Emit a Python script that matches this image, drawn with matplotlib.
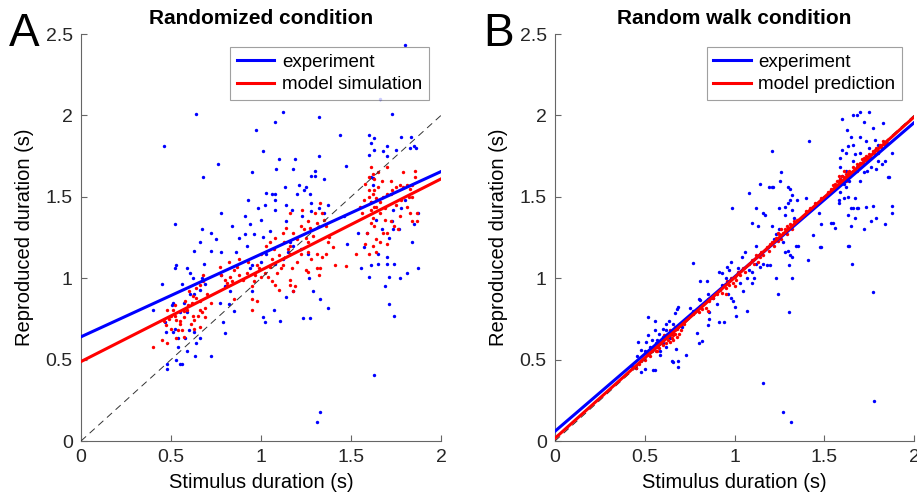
import numpy as np
import matplotlib
matplotlib.use("Agg")
import matplotlib.pyplot as plt

plt.rcParams['font.family'] = ['Liberation Sans', 'DejaVu Sans']

# ---- data (stimulus, reproduced) ----

# Panel A: randomized condition
a_exp_pts = [
    (0.46,1.81),(0.64,2.01),(0.52,1.335),(0.67,1.30),(0.68,1.62),(0.76,1.70),(0.78,1.40),(0.66,1.22),
    (0.63,1.17),(0.72,1.17),(0.78,1.16),(0.86,1.16),(0.84,1.32),(0.91,1.38),(0.91,1.27),(0.93,1.48),
    (0.94,1.33),(0.96,1.27),(0.985,1.43),(1.0,1.36),(1.02,1.45),(1.03,1.525),(1.06,1.52),(1.08,1.52),
    (1.08,1.48),(1.08,1.42),(1.14,1.45),(1.135,1.56),(1.14,1.35),(1.05,1.29),(1.01,1.255),(0.95,1.65),
    (0.97,1.91),(1.01,1.78),(1.08,1.96),(1.12,2.02),(1.10,1.735),(1.085,1.67),(1.19,1.73),(1.18,1.67),
    (1.32,1.99),(1.32,1.75),(1.44,1.88),(1.47,1.69),(1.21,1.57),(1.24,1.54),(1.27,1.52),(1.17,1.42),
    (1.30,1.66),(1.35,1.61),(1.32,1.43),(1.23,1.38),(1.28,1.63),(1.30,1.63),(1.25,1.56),(1.20,1.52),
    (1.28,1.46),(1.28,1.41),(1.37,1.45),(1.35,1.40),(1.46,1.38),(1.48,1.21),(1.54,1.275),(1.57,1.19),
    (1.60,1.88),(1.63,1.86),(1.66,2.10),(1.73,2.01),(1.80,2.43),(1.78,1.87),(1.835,1.87),(1.70,1.81),
    (1.75,1.79),(1.85,1.81),(1.70,1.75),(1.68,1.78),(1.60,1.755),(1.62,1.615),(1.61,1.83),(1.63,1.79),
    (1.86,1.80),(1.83,1.80),(1.87,1.40),(1.80,1.48),(1.78,1.43),(1.73,1.35),(1.765,1.30),(1.64,1.36),
    (1.67,1.30),(1.61,1.47),(1.59,1.275),(1.71,1.245),(1.735,1.42),(1.84,1.22),(1.85,1.33),(1.735,1.30),
    (1.70,1.13),(1.65,1.15),(1.61,1.62),(1.62,1.57),
    (1.556,1.06),(1.61,1.08),(1.65,1.09),(1.70,1.09),(1.74,1.09),(1.87,1.06),(1.81,1.03),(1.77,1.00),
    (1.60,1.01),(1.71,1.01),(1.69,0.95),(1.71,0.84),(1.74,0.77),(1.63,0.405),(1.33,0.18),(1.31,0.117),
    (1.235,0.757),(1.27,0.757),(1.33,0.87),(1.37,0.82),(1.29,0.92),(1.18,0.92),(1.265,1.00),(1.18,1.20),
    (1.22,1.18),(1.26,1.15),(1.12,1.12),(1.16,1.22),
    (0.52,1.06),(0.53,1.08),(0.59,1.06),(0.605,1.03),(0.62,1.0),(0.685,1.09),(0.67,1.0),(0.45,0.965),
    (0.56,0.965),(0.69,0.965),(0.66,0.93),(0.605,0.90),(0.63,0.90),(0.51,0.85),(0.505,0.835),(0.57,0.85),
    (0.55,0.79),(0.59,0.79),(0.40,0.805),(0.467,0.73),(0.52,0.69),(0.51,0.67),(0.47,0.67),(0.54,0.63),
    (0.58,0.63),(0.60,0.68),(0.63,0.67),(0.64,0.60),(0.66,0.63),(0.59,0.55),(0.54,0.58),(0.635,0.52),
    (0.72,0.52),(0.53,0.50),(0.48,0.47),(0.48,0.44),(0.55,0.47),(0.56,0.47),
    (0.77,0.85),(0.82,0.84),(0.79,0.73),(0.80,0.665),(0.85,0.80),(0.94,1.06),(0.95,1.08),(0.95,0.92),
    (1.01,0.76),(1.02,0.73),(1.07,0.805),(1.105,0.74),(1.14,0.886),(0.775,1.02),(0.80,0.95),(0.83,0.92),
    (1.0,1.10),(1.03,1.15),(1.08,1.09),(1.15,1.16),(0.88,1.25),(0.92,1.20),(0.72,1.28),(0.75,1.24),
]
a_sim_pts = [
    (0.46,0.737),(0.47,0.71),(0.48,0.805),(0.51,0.805),(0.52,0.835),(0.50,0.77),(0.53,0.745),(0.54,0.68),
    (0.56,0.68),(0.55,0.72),(0.57,0.76),(0.57,0.80),(0.59,0.805),(0.595,0.835),(0.615,0.845),(0.62,0.765),
    (0.63,0.745),(0.65,0.77),(0.66,0.805),(0.67,0.795),(0.66,0.86),(0.69,0.82),(0.64,0.88),(0.62,0.89),
    (0.64,0.94),(0.68,1.02),(0.675,0.98),(0.72,0.85),(0.66,0.70),(0.63,0.69),(0.57,0.64),(0.53,0.63),
    (0.50,0.69),(0.45,0.62),(0.40,0.575),(0.48,0.60),(0.55,0.74),(0.58,0.86),(0.60,0.92),(0.70,0.90),
    (0.66,0.96),(0.52,0.77),(0.49,0.75),(0.61,0.72),(0.69,0.76),
    (0.77,1.07),(0.78,1.02),(0.80,0.99),(0.81,0.97),(0.81,0.95),(0.83,1.01),(0.84,0.98),(0.85,1.05),
    (0.865,1.07),(0.88,1.02),(0.90,0.99),(0.92,1.03),(0.95,0.95),(0.96,0.98),(0.965,1.02),(0.976,1.08),
    (0.99,1.06),(1.0,1.01),(0.95,0.87),(0.98,0.86),(1.02,1.03),(1.04,1.01),(1.05,1.07),(1.06,1.12),
    (1.09,1.03),(1.11,1.06),(1.12,1.08),(1.10,0.93),(1.06,0.98),(1.08,0.96),(0.95,0.805),(0.85,0.87),
    (0.82,1.10),(0.88,1.12),(0.93,1.10),(1.0,1.15),(1.03,1.20),(1.07,1.18),(1.10,1.14),(1.13,1.22),
    (1.15,1.18),(1.12,1.28),(1.08,1.25),(1.05,1.22),(1.16,1.40),(1.18,1.275),(1.20,1.24),(1.22,1.32),
    (1.24,1.30),(1.26,1.35),(1.27,1.31),(1.30,1.40),(1.31,1.34),(1.34,1.40),(1.35,1.36),(1.36,1.32),
    (1.26,1.22),(1.25,1.25),(1.31,1.15),(1.36,1.15),(1.34,1.13),(1.22,1.15),(1.16,1.15),(1.16,1.20),
    (1.38,1.255),(1.37,1.22),(1.53,1.15),(1.17,1.06),(1.16,0.99),(1.16,0.96),(1.19,0.95),(1.18,0.92),
    (1.25,1.05),(1.26,1.04),(1.26,1.16),(1.31,1.06),(1.33,1.06),(1.32,1.02),(1.40,1.19),(1.41,1.08),
    (1.47,1.075),(1.20,1.10),(1.28,1.12),(1.29,1.26),(1.14,1.31),(1.23,1.42),(1.33,1.46),
    (1.60,1.50),(1.62,1.52),(1.64,1.49),(1.61,1.47),(1.63,1.54),(1.65,1.56),(1.61,1.42),(1.63,1.44),
    (1.64,1.44),(1.66,1.47),(1.68,1.50),(1.70,1.52),(1.72,1.52),(1.73,1.54),(1.75,1.56),(1.77,1.57),
    (1.79,1.56),(1.81,1.57),(1.83,1.55),(1.855,1.62),(1.855,1.66),(1.84,1.57),(1.72,1.60),(1.67,1.60),
    (1.63,1.61),(1.62,1.64),(1.61,1.685),(1.60,1.54),(1.61,1.34),(1.63,1.32),(1.59,1.275),(1.64,1.24),
    (1.66,1.22),(1.68,1.28),(1.69,1.36),(1.70,1.28),(1.70,1.21),(1.64,1.16),(1.60,1.15),(1.72,1.35),
    (1.74,1.32),(1.76,1.30),(1.81,1.44),(1.83,1.40),(1.84,1.35),(1.865,1.40),(1.865,1.35),(1.84,1.50),
    (1.56,1.40),(1.57,1.48),(1.55,1.44),(1.58,1.21),(1.62,1.20),(1.66,1.40),(1.75,1.45),(1.78,1.48),
    (1.69,1.43),(1.62,1.37),(1.77,1.38),(1.58,1.58),(1.60,1.62),(1.65,1.65),(1.70,1.68),(1.79,1.65),
    (1.82,1.50),
]

# Panel B: random walk condition
b_exp_pts = [
    (0.52,0.76),(0.557,0.74),(0.667,0.785),(0.687,0.825),(0.68,0.81),(0.637,0.74),(0.62,0.72),(0.60,0.69),
    (0.58,0.66),(0.557,0.68),(0.54,0.62),(0.52,0.65),(0.507,0.61),(0.46,0.61),(0.48,0.56),(0.455,0.52),
    (0.48,0.426),(0.50,0.44),(0.545,0.436),(0.557,0.436),(0.585,0.53),(0.585,0.555),(0.65,0.49),(0.66,0.485),
    (0.687,0.456),(0.687,0.49),(0.674,0.563),(0.706,0.70),(0.817,0.616),(0.80,0.60),(0.79,0.665),(0.57,0.62),
    (0.60,0.60),(0.62,0.58),(0.64,0.63),(0.66,0.66),(0.50,0.55),(0.53,0.58),(0.56,0.60),(0.60,0.64),
    (0.62,0.68),(0.66,0.72),(0.45,0.45),(0.43,0.46),(0.70,0.72),(0.73,0.53),
    (0.767,1.095),(0.81,0.98),(0.845,0.98),(0.80,0.87),(0.81,0.866),(0.85,0.90),(0.86,0.75),(0.85,0.71),
    (0.94,0.73),(0.915,0.73),(0.86,0.79),(0.915,1.04),(0.93,1.03),(0.955,1.0),(0.965,0.905),(0.98,0.88),
    (0.99,0.86),(1.0,0.825),(1.01,0.77),(1.05,0.92),(1.07,0.80),(1.07,1.0),(1.095,0.97),(1.10,1.04),
    (1.12,1.09),(1.14,1.07),(1.16,1.09),(1.18,1.08),(0.96,1.07),(0.98,1.10),(0.97,1.05),(1.157,0.358),
    (0.77,0.80),(0.75,0.82),(0.88,0.88),(0.90,0.84),(0.93,0.96),(1.02,1.06),(1.04,1.13),(1.06,1.16),
    (1.12,1.20),(1.14,1.15),(1.08,1.05),(1.11,1.00),(1.03,0.97),
    (1.207,1.78),(1.415,1.84),(1.08,1.525),(1.14,1.58),(1.21,1.56),(1.19,1.56),(1.257,1.65),(1.255,1.60),
    (1.30,1.56),(1.31,1.55),(0.985,1.43),(1.12,1.43),(1.17,1.39),(1.16,1.40),(1.30,1.46),(1.32,1.42),
    (1.33,1.37),(1.35,1.48),(1.40,1.49),(1.10,1.34),(1.13,1.32),(1.28,1.44),(1.25,1.43),(1.28,1.39),
    (1.47,1.40),(1.48,1.33),(1.216,1.56),(1.32,1.51),(1.31,1.48),(1.207,1.32),(1.23,1.27),(1.356,1.20),
    (1.34,1.20),(1.31,1.14),(1.30,1.17),(1.28,1.16),(1.476,1.19),(1.44,1.265),(1.20,1.08),(1.305,1.08),
    (1.32,1.13),(1.41,1.11),(1.23,1.0),(1.32,1.0),(1.24,0.90),(1.305,0.79),(1.27,0.18),(1.316,0.117),
    (1.25,1.30),(1.22,1.24),(1.27,1.22),
    (1.60,1.976),(1.66,2.00),(1.68,2.00),(1.70,2.02),(1.75,2.02),(1.72,1.96),(1.77,1.92),(1.83,1.955),
    (1.625,1.91),(1.65,1.87),(1.70,1.87),(1.73,1.84),(1.75,1.80),(1.63,1.81),(1.60,1.79),(1.62,1.77),
    (1.59,1.74),(1.67,1.76),(1.80,1.77),(1.876,1.77),(1.80,1.72),(1.86,1.62),(1.59,1.685),(1.62,1.66),
    (1.59,1.61),(1.61,1.58),(1.59,1.53),(1.63,1.50),(1.61,1.49),(1.58,1.48),(1.67,1.49),(1.65,1.43),
    (1.66,1.43),(1.68,1.43),(1.69,1.43),(1.63,1.39),(1.67,1.37),(1.73,1.44),(1.79,1.37),(1.84,1.335),
    (1.876,1.445),(1.876,1.40),(1.55,1.34),(1.56,1.31),(1.72,1.30),(1.76,1.35),(1.63,1.20),(1.64,1.195),
    (1.48,1.19),(1.54,1.34),(1.58,1.46),(1.65,1.32),(1.77,1.445),(1.79,1.67),(1.857,1.62),(1.82,1.70),
    (1.745,1.73),(1.70,1.77),(1.66,1.72),(1.656,1.09),(1.77,0.917),(1.777,0.246),(1.60,1.63),(1.62,1.56),
    (1.64,1.60),(1.70,1.60),(1.72,1.65),(1.76,1.68),(1.84,1.72),(1.80,1.82),(1.78,1.85),(1.66,1.82),
    (1.68,1.68),(1.74,1.66),
]
b_pred_pts = [
    (0.45,0.45),(0.47,0.47),(0.50,0.50),(0.51,0.53),(0.53,0.52),(0.54,0.55),(0.55,0.57),(0.56,0.55),
    (0.57,0.58),(0.58,0.60),(0.58,0.57),(0.59,0.61),(0.60,0.59),(0.61,0.63),(0.62,0.60),(0.62,0.64),
    (0.63,0.62),(0.63,0.66),(0.64,0.65),(0.64,0.61),(0.65,0.67),(0.65,0.63),(0.66,0.68),(0.66,0.65),
    (0.67,0.70),(0.67,0.66),(0.68,0.69),(0.68,0.64),(0.69,0.71),(0.70,0.68),(0.72,0.72),(0.60,0.62),
    (0.56,0.58),(0.52,0.54),(0.48,0.49),(0.61,0.65),(0.64,0.68),(0.66,0.62),(0.69,0.66),(0.57,0.55),
    (0.77,0.78),(0.78,0.80),(0.79,0.81),(0.80,0.79),(0.81,0.83),(0.82,0.81),(0.83,0.85),(0.84,0.82),
    (0.85,0.87),(0.86,0.86),(0.88,0.88),(0.90,0.90),(0.92,0.93),(0.93,0.91),(0.94,0.96),(0.95,0.94),
    (0.96,0.98),(0.97,0.96),(0.98,1.00),(0.99,0.97),(1.00,1.01),(1.01,0.99),(1.02,1.04),(1.03,1.02),
    (1.05,1.06),(1.06,1.04),(1.08,1.09),(1.10,1.11),(1.11,1.09),(1.12,1.14),(1.14,1.13),(1.15,1.16),
    (1.16,1.14),(1.18,1.19),(1.19,1.17),(0.95,0.90),(1.00,0.95),(0.85,0.80),(1.13,1.10),
    (1.20,1.21),(1.21,1.22),(1.22,1.20),(1.23,1.25),(1.24,1.23),(1.25,1.27),(1.26,1.24),(1.27,1.28),
    (1.28,1.30),(1.29,1.27),(1.30,1.31),(1.31,1.33),(1.32,1.30),(1.33,1.35),(1.35,1.36),(1.38,1.38),
    (1.40,1.41),(1.42,1.43),(1.45,1.46),(1.48,1.49),(1.50,1.50),(1.26,1.30),(1.29,1.32),(1.24,1.28),
    (1.52,1.53),(1.54,1.55),(1.55,1.57),(1.56,1.58),(1.57,1.56),(1.58,1.60),(1.59,1.61),(1.60,1.59),
    (1.60,1.63),(1.61,1.62),(1.62,1.60),(1.62,1.64),(1.63,1.65),(1.63,1.62),(1.64,1.66),(1.65,1.64),
    (1.66,1.68),(1.67,1.66),(1.68,1.70),(1.69,1.68),(1.70,1.71),(1.71,1.73),(1.72,1.70),(1.73,1.75),
    (1.74,1.72),(1.75,1.76),(1.76,1.74),(1.77,1.78),(1.78,1.76),(1.79,1.80),(1.80,1.78),(1.81,1.82),
    (1.82,1.80),(1.83,1.84),(1.84,1.82),(1.85,1.83),(1.58,1.63),(1.61,1.66),(1.57,1.60),(1.59,1.58),
    (1.64,1.62),(1.68,1.66),(1.72,1.74),(1.75,1.73),(1.78,1.79),
]

# fitted lines, value at stimulus 0 and 2
fit_x = [0, 2]
a_exp_fit = [0.64, 1.655]
a_sim_fit = [0.488, 1.61]
b_exp_fit = [0.06, 1.955]
b_pred_fit = [0.017, 1.99]
identity = [0, 2]

xticks = [0, 0.5, 1, 1.5, 2]
xtick_labels = ["0", "0.5", "1", "1.5", "2"]
yticks = [0, 0.5, 1, 1.5, 2, 2.5]
ytick_labels = ["0", "0.5", "1", "1.5", "2", "2.5"]

BLUE = (0, 0, 1)
RED = (1, 0, 0)
TXT = '#262626'

fig = plt.figure(figsize=(9.17, 5.0), dpi=100)
axA = fig.add_axes([81/917, 59/500, 360/917, 407/500])
axB = fig.add_axes([555/917, 59/500, 359/917, 407/500])


def draw_panel(ax, exp_pts, model_pts, exp_fit, model_fit, title, model_label, letter):
    e = np.array(exp_pts)
    m = np.array(model_pts)
    ax.scatter(e[:, 0], e[:, 1], s=6, color=BLUE, linewidths=0, zorder=2)
    ax.scatter(m[:, 0], m[:, 1], s=6, color=RED, linewidths=0, zorder=3)
    ax.plot(fit_x, identity, color='#333333', lw=0.7, dashes=(7, 5), zorder=4)
    ax.plot(fit_x, exp_fit, color=BLUE, lw=2.2, label='experiment', zorder=5)
    ax.plot(fit_x, model_fit, color=RED, lw=2.2, label=model_label, zorder=6)

    ax.set_xlim(0, 2)
    ax.set_ylim(0, 2.5)
    ax.set_xticks(xticks)
    ax.set_xticklabels(xtick_labels)
    ax.set_yticks(yticks)
    ax.set_yticklabels(ytick_labels)
    ax.spines['top'].set_visible(False)
    ax.spines['right'].set_visible(False)
    for s in ('left', 'bottom'):
        ax.spines[s].set_color('#666666')
        ax.spines[s].set_linewidth(0.8)
    ax.tick_params(direction='in', length=4, width=0.8, color='#666666',
                   labelsize=14, labelcolor=TXT, pad=6)
    ax.set_xlabel('Stimulus duration (s)', fontsize=14.5, color='black', labelpad=5)
    ax.set_ylabel('Reproduced duration (s)', fontsize=14.5, color='black', labelpad=8)
    ax.set_title(title, fontsize=15, fontweight='bold', pad=7)

    leg = ax.legend(loc='upper right', bbox_to_anchor=(0.966, 0.968), fontsize=13.5,
                    frameon=True, fancybox=False, handlelength=2.0, handletextpad=0.4,
                    borderpad=0.35, labelspacing=0.3, borderaxespad=0)
    leg.get_frame().set_edgecolor('#888888')
    leg.get_frame().set_linewidth(0.8)

    ax.text(-0.2, 1.0, letter, transform=ax.transAxes, fontsize=33,
            ha='left', va='center')


draw_panel(axA, a_exp_pts, a_sim_pts, a_exp_fit, a_sim_fit,
           'Randomized condition', 'model simulation', 'A')
draw_panel(axB, b_exp_pts, b_pred_pts, b_exp_fit, b_pred_fit,
           'Random walk condition', 'model prediction', 'B')

fig.savefig('out.png', dpi=100)
